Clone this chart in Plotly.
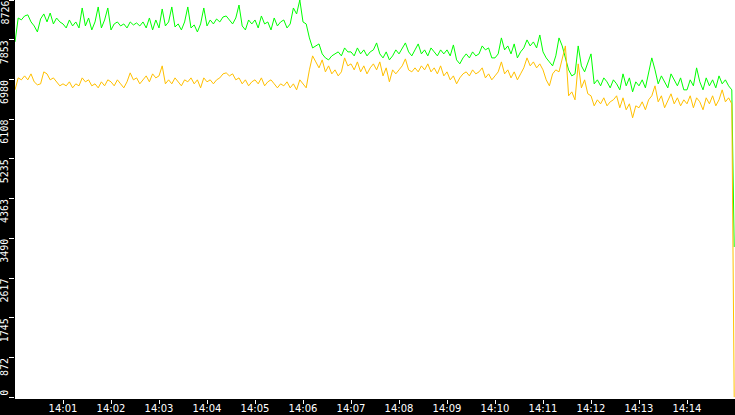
import pandas as pd
import plotly.graph_objects as go

# samples every 4 seconds from 14:00:00, one row per minute
green = [
    7805, 8330, 8290, 8375, 8400, 8245, 8156, 8024, 8310, 8420, 8245, 8440, 8200, 8330, 8245,
    8200, 8112, 8287, 8156, 8244, 8112, 8551, 8156, 8331, 8068, 8244, 8573, 8112, 8287, 8551,
    8068, 8200, 8244, 8156, 8200, 8112, 8244, 8178, 8222, 8156, 8244, 8112, 8331, 8068, 8287,
    8112, 8529, 8156, 8244, 8573, 8134, 8200, 8068, 8244, 8573, 8112, 8178, 8024, 8200, 8551,
    8156, 8287, 8200, 8309, 8244, 8353, 8375, 8287, 8200, 8331, 8616, 8156, 8068, 8287, 8200,
    8287, 8112, 8375, 8200, 8244, 8068, 8331, 8156, 8244, 8287, 8112, 8200, 8551, 8419, 8726,
    8244, 8200, 7893, 7673, 7717, 7761, 7542, 7454, 7410, 7498, 7542, 7586, 7498, 7673, 7586,
    7586, 7498, 7673, 7542, 7630, 7498, 7586, 7630, 7783, 7542, 7454, 7586, 7410, 7498, 7630,
    7542, 7673, 7783, 7586, 7498, 7630, 7761, 7542, 7630, 7498, 7673, 7586, 7498, 7630, 7542,
    7630, 7498, 7739, 7410, 7323, 7454, 7542, 7454, 7586, 7498, 7542, 7717, 7630, 7673, 7454,
    7454, 7542, 7893, 7630, 7717, 7542, 7761, 7454, 7586, 7673, 7849, 7717, 7805, 7673, 7958,
    7586, 7454, 7366, 7279, 7498, 7893, 7717, 7454, 7191, 7059, 7103, 7717, 7279, 7147, 7366,
    7542, 6884, 6972, 6840, 7015, 6928, 6796, 6972, 6884, 6752, 7103, 6840, 7015, 6708, 6928,
    6840, 6972, 6796, 7103, 7454, 7191, 6884, 7059, 6928, 6796, 7103, 6972, 6840, 7015, 6752,
    6752, 6972, 6840, 7235, 6928, 6752, 7015, 6840, 6972, 6796, 7059, 6884, 6972, 6840, 6752,
]
orange = [
    6752, 7015, 6972, 7059, 6972, 7103, 6928, 6862, 6884, 7147, 7103, 6972, 7015, 6928, 6840,
    6884, 6840, 6928, 6796, 6884, 6840, 7015, 6928, 6972, 6840, 6884, 6796, 6928, 6840, 6972,
    6928, 6840, 6972, 6884, 6796, 6928, 7125, 6972, 7015, 6884, 6972, 7059, 6928, 7103, 7015,
    7059, 7279, 6884, 6972, 6884, 7015, 6928, 6840, 6972, 6928, 7015, 6884, 6972, 6796, 7015,
    6928, 6972, 6884, 6972, 7015, 7103, 7125, 7059, 7103, 6972, 7015, 6884, 6972, 6840, 6928,
    6972, 6884, 7015, 6840, 6928, 6972, 6884, 6796, 6884, 6840, 6928, 6796, 6884, 6752, 6972,
    6884, 6796, 7191, 7498, 7366, 7235, 7410, 7147, 7279, 7103, 7191, 7059, 7147, 7454, 7279,
    7323, 7191, 7366, 7147, 7279, 7103, 7235, 7323, 7191, 7366, 7059, 7235, 6928, 7191, 7103,
    7191, 7279, 7432, 7191, 7147, 7235, 7147, 7279, 7191, 7323, 7147, 7235, 7103, 7279, 7059,
    7147, 6972, 7059, 6884, 7015, 7103, 7147, 7059, 7191, 7103, 7147, 7235, 7015, 7103, 6972,
    7059, 7147, 7366, 7103, 7191, 7015, 7147, 6972, 7103, 7235, 7454, 7279, 7366, 7235, 7323,
    7191, 6972, 6840, 7103, 7191, 7147, 7410, 7717, 6621, 6708, 6533, 7323, 6796, 6972, 6665,
    6621, 6401, 6533, 6445, 6577, 6401, 6489, 6533, 6621, 6358, 6577, 6314, 6445, 6138, 6401,
    6358, 6489, 6314, 6533, 6621, 6840, 6489, 6621, 6358, 6533, 6665, 6445, 6577, 6401, 6533,
    6445, 6621, 6358, 6577, 6489, 6314, 6577, 6445, 6621, 6401, 6533, 6752, 6489, 6577, 6445,
]
# last sample, where both series drop
green_last = 3300
orange_last = 0

y_ticks = [0, 872.6, 1745.2, 2617.8, 3490.4, 4363, 5235.6, 6108.2, 6980.8, 7853.4, 8726]
y_labels = ['0', '872', '1745', '2617', '3490', '4363', '5235', '6108', '6980', '7853', '8726']
x_ticks = ['14:01', '14:02', '14:03', '14:04', '14:05', '14:06', '14:07',
           '14:08', '14:09', '14:10', '14:11', '14:12', '14:13', '14:14']

day = '2021-01-01 '
times = list(pd.date_range(day + '14:00:00', periods=len(green), freq='4s'))
times.append(pd.Timestamp(day + '14:14:59'))

fig = go.Figure()
fig.add_trace(go.Scatter(x=times, y=green + [green_last], mode='lines',
                         line=dict(color='#00ff00', width=1)))
fig.add_trace(go.Scatter(x=times, y=orange + [orange_last], mode='lines',
                         line=dict(color='#ffc000', width=1)))

# rotated y labels sit just below their tick
for v, t in zip(y_ticks, y_labels):
    fig.add_annotation(x=0, xref='paper', y=v, yref='y', text=t, showarrow=False,
                       textangle=-90, xanchor='right', yanchor='bottom' if v == 0 else 'top',
                       xshift=-4, borderpad=0,
                       font=dict(family='DejaVu Sans Mono', size=10, color='white'))

fig.update_layout(
    width=735, height=415,
    margin=dict(l=15, r=0, t=0, b=16, autoexpand=False),
    paper_bgcolor='black', plot_bgcolor='white',
    showlegend=False,
    xaxis=dict(range=[day + '14:00:00', day + '14:15:00'],
               tickvals=[day + t for t in x_ticks], ticktext=x_ticks,
               ticks='outside', ticklen=4, tickcolor='white',
               ticklabelstandoff=-4,
               showgrid=False, zeroline=False, showline=False,
               tickfont=dict(family='DejaVu Sans', size=10, color='white')),
    yaxis=dict(range=[-40, 8726], tickvals=y_ticks, showticklabels=False,
               ticks='outside', ticklen=5, tickcolor='white',
               showgrid=False, zeroline=False, showline=False),
)

# the page's default body margin would push the chart out of the window
fig.write_html("out.html", config={'displayModeBar': False},
               post_script="document.body.style.margin='0';")
